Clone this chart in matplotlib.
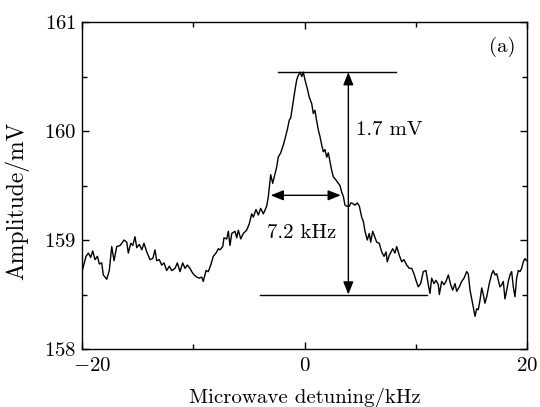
import numpy as np
import matplotlib
matplotlib.use("Agg")
import matplotlib.pyplot as plt
from matplotlib.ticker import MultipleLocator

# ---- data ----
detuning = [
    -20.0, -19.64, -19.43, -19.22, -19.04, -18.83, -18.62, -18.44, -18.23, -18.09,
    -17.78, -17.55, -17.33, -17.12, -16.88, -16.58, -16.22, -15.98, -15.84, -15.62,
    -15.44, -15.24, -15.08, -14.85, -14.63, -14.43, -14.18, -13.89, -13.64, -13.44,
    -13.29, -13.05, -12.84, -12.63, -12.39, -12.15, -11.94, -11.64, -11.43, -11.19,
    -10.95, -10.74, -10.53, -10.29, -10.14, -9.93, -9.69, -9.46, -9.24, -9.10,
    -8.85, -8.65, -8.43, -8.20, -7.96, -7.75, -7.60, -7.35, -7.24, -6.99,
    -6.85, -6.70, -6.54, -6.25, -6.09, -5.95, -5.73, -5.50, -5.20, -4.96,
    -4.75, -4.60, -4.36, -4.15, -3.94, -3.70, -3.40, -3.25, -3.04, -2.86,
    -2.65, -2.50, -2.36, -2.14, -1.91, -1.75, -1.55, -1.37, -1.24, -1.06,
    -0.85, -0.70, -0.56, -0.40, -0.25, -0.11, 0.04, 0.25, 0.43, 0.65,
    0.79, 0.94, 1.10, 1.24, 1.39, 1.55, 1.69, 1.84, 2.00, 2.14,
    2.29, 2.44, 2.59, 2.83, 3.04, 3.19, 3.34, 3.49, 3.64, 3.79,
    4.03, 4.15, 4.24, 4.54, 4.75, 4.93, 5.14, 5.29, 5.44, 5.64,
    5.82, 5.95, 6.13, 6.34, 6.49, 6.72, 6.94, 7.15, 7.33, 7.44,
    7.62, 7.93, 8.13, 8.29, 8.52, 8.74, 8.94, 9.19, 9.42, 9.64,
    9.84, 10.02, 10.23, 10.44, 10.68, 10.92, 11.13, 11.28, 11.43, 11.64,
    11.82, 12.03, 12.12, 12.33, 12.54, 12.72, 12.93, 13.14, 13.32, 13.53,
    13.68, 13.92, 14.13, 14.34, 14.58, 14.72, 14.88, 15.03, 15.17, 15.33,
    15.48, 15.62, 15.78, 15.93, 16.07, 16.22, 16.38, 16.61, 16.83, 16.97,
    17.12, 17.28, 17.42, 17.57, 17.73, 17.87, 18.02, 18.18, 18.32, 18.47,
    18.62, 18.77, 18.92, 19.07, 19.22, 19.37, 19.52, 19.67, 19.82, 19.96,
]
amplitude = [
    158.71, 158.85, 158.88, 158.84, 158.90, 158.82, 158.85, 158.78, 158.79, 158.68,
    158.64, 158.72, 158.94, 158.81, 158.94, 158.95, 159.00, 158.98, 158.88, 158.97,
    158.95, 159.03, 158.93, 158.96, 158.91, 158.97, 158.89, 158.82, 158.83, 158.91,
    158.81, 158.82, 158.77, 158.79, 158.72, 158.76, 158.72, 158.74, 158.79, 158.71,
    158.79, 158.74, 158.77, 158.74, 158.71, 158.68, 158.66, 158.65, 158.66, 158.62,
    158.72, 158.71, 158.77, 158.85, 158.88, 158.92, 158.91, 158.94, 159.02, 159.01,
    159.08, 158.95, 159.06, 159.08, 159.02, 159.09, 159.01, 159.06, 159.09, 159.15,
    159.24, 159.21, 159.28, 159.23, 159.29, 159.24, 159.31, 159.40, 159.60, 159.52,
    159.61, 159.67, 159.76, 159.80, 159.87, 159.93, 160.01, 160.10, 160.12, 160.24,
    160.38, 160.47, 160.51, 160.54, 160.50, 160.54, 160.47, 160.39, 160.31, 160.25,
    160.16, 160.19, 160.09, 160.01, 159.95, 159.87, 159.81, 159.83, 159.76, 159.80,
    159.72, 159.64, 159.58, 159.55, 159.52, 159.50, 159.44, 159.40, 159.32, 159.31,
    159.31, 159.34, 159.34, 159.32, 159.34, 159.31, 159.21, 159.17, 159.08, 159.00,
    159.06, 158.98, 159.08, 159.02, 158.98, 158.97, 158.89, 158.85, 158.89, 158.80,
    158.86, 158.92, 158.88, 158.94, 158.86, 158.80, 158.82, 158.77, 158.74, 158.74,
    158.69, 158.63, 158.57, 158.60, 158.71, 158.72, 158.59, 158.51, 158.65, 158.60,
    158.63, 158.59, 158.50, 158.62, 158.59, 158.62, 158.68, 158.59, 158.54, 158.60,
    158.53, 158.57, 158.62, 158.65, 158.71, 158.69, 158.54, 158.46, 158.39, 158.30,
    158.37, 158.36, 158.45, 158.56, 158.50, 158.42, 158.48, 158.60, 158.69, 158.72,
    158.68, 158.69, 158.63, 158.57, 158.59, 158.62, 158.46, 158.54, 158.62, 158.68,
    158.71, 158.57, 158.48, 158.65, 158.72, 158.71, 158.74, 158.80, 158.83, 158.81,
]

x_ticks = [-20, 0, 20]
x_tick_labels = ["$-20$", "$0$", "$20$"]

peak_level = 160.54
base_level = 158.50
half_level = 159.41
fwhm_left, fwhm_right = -3.04, 3.26

# ---- style ----
plt.rcParams["font.family"] = "serif"
plt.rcParams["font.serif"] = ["cmr10"]
plt.rcParams["mathtext.fontset"] = "cm"
plt.rcParams["axes.formatter.use_mathtext"] = True
plt.rcParams["font.size"] = 15

fig = plt.figure(figsize=(5.40, 4.07), dpi=100)
ax = fig.add_axes([0.1519, 0.1425, 0.8240, 0.8034])

ax.plot(detuning, amplitude, color="black", linewidth=1.0)

# peak / baseline markers
ax.plot([-2.38, 8.22], [peak_level, peak_level], color="black", linewidth=1.0)
ax.plot([-4.0, 11.0], [base_level, base_level], color="black", linewidth=1.0)

arrow_kw = dict(arrowstyle="<|-|>,head_length=0.55,head_width=0.22",
                color="black", lw=1.0, shrinkA=0, shrinkB=0, mutation_scale=14)
ax.annotate("", xy=(3.94, peak_level), xytext=(3.94, base_level), arrowprops=arrow_kw)
ax.annotate("", xy=(fwhm_left, half_level), xytext=(fwhm_right, half_level), arrowprops=arrow_kw)

ax.text(4.63, 160.01, "1.7 mV", ha="left", va="center", fontsize=15)
ax.text(-0.25, 159.06, "7.2 kHz", ha="center", va="center", fontsize=15)
ax.text(17.75, 160.77, "(a)", ha="center", va="center", fontsize=15)

ax.set_xlim(-20, 20)
ax.set_ylim(158, 161)
# first x label is drawn shifted right of its tick, as in the reference
ax.set_xticks(x_ticks, [""] + x_tick_labels[1:])
ax.annotate(x_tick_labels[0], xy=(x_ticks[0], 158), xytext=(7.5, -6),
            textcoords="offset points", ha="center", va="top", fontsize=15,
            annotation_clip=False)
ax.xaxis.set_minor_locator(MultipleLocator(10))
ax.yaxis.set_major_locator(MultipleLocator(1))
ax.yaxis.set_minor_locator(MultipleLocator(0.5))
ax.tick_params(which="both", direction="in", top=True, right=True,
               labeltop=False, labelright=False, width=1.0)
ax.tick_params(which="major", length=5, pad=4, labelsize=15)
ax.tick_params(axis="x", which="major", pad=6)
ax.tick_params(which="minor", length=3.5)
for s in ax.spines.values():
    s.set_linewidth(1.0)

ax.set_xlabel("Microwave detuning/kHz", fontsize=15, labelpad=9)
ax.set_ylabel("Amplitude/mV", fontsize=17)
ax.yaxis.set_label_coords(-0.119, 0.453)

fig.savefig("out.png", dpi=100)
